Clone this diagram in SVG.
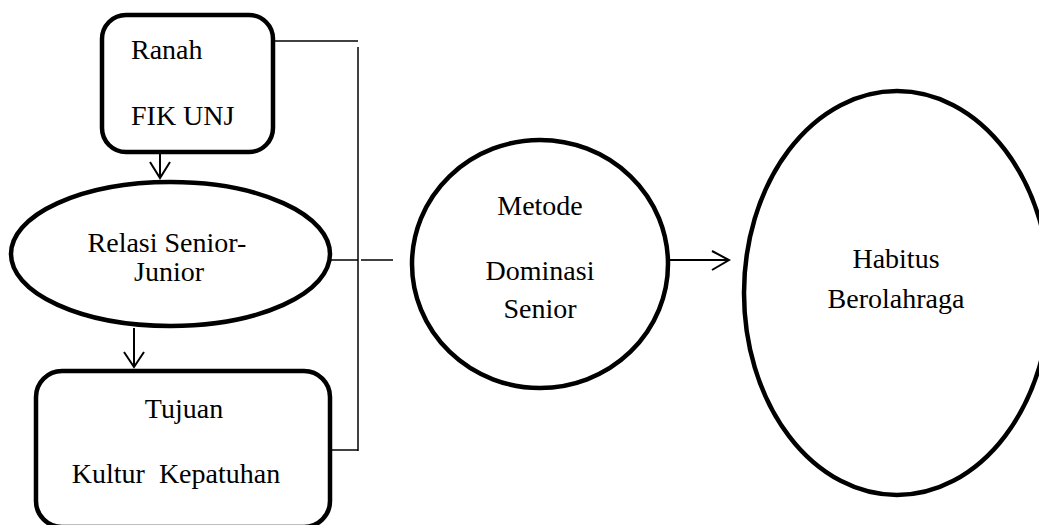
<svg xmlns="http://www.w3.org/2000/svg" width="1039" height="525" viewBox="0 0 1039 525">
<style>
.shape{fill:#fff;stroke:#000;stroke-width:4.5}
.t{font-family:"Liberation Serif","Times New Roman",serif;font-size:28px;fill:#000}
.c{text-anchor:middle}
.thin{stroke:#000;stroke-width:1.5;fill:none}
.arr{stroke:#000;stroke-width:2;fill:none}
</style>
<rect width="1039" height="525" fill="#fff"/>
<g id="connectors">
<line class="thin" x1="275" y1="41" x2="358" y2="41"/>
<line class="thin" x1="358" y1="47" x2="358" y2="451"/>
<line class="thin" x1="330" y1="260" x2="358" y2="260"/>
<line class="thin" x1="361" y1="260" x2="393" y2="260"/>
<line class="thin" x1="330" y1="450" x2="358" y2="450"/>
<line class="arr" x1="160" y1="140" x2="160" y2="178"/>
<polyline class="arr" points="150,162 160,178 170,162"/>
<line class="arr" x1="134" y1="328" x2="134" y2="367"/>
<polyline class="arr" points="124,352 134,367 144,352"/>
<line class="arr" x1="669" y1="260" x2="729" y2="260"/>
<polyline class="arr" points="712,251 729,260 712,270"/>
</g>
<g id="ranah">
<rect class="shape" x="102" y="15" width="171" height="137" rx="24"/>
<text class="t" x="131" y="59">Ranah</text>
<text class="t" x="131" y="125">FIK UNJ</text>
</g>
<g id="relasi">
<ellipse class="shape" cx="170.5" cy="254" rx="159.5" ry="72"/>
<text class="t c" x="167" y="252">Relasi Senior-</text>
<text class="t c" x="169" y="281">Junior</text>
</g>
<g id="tujuan">
<rect class="shape" x="36" y="371" width="294" height="156" rx="26"/>
<text class="t c" x="184" y="418">Tujuan</text>
<text class="t c" x="176" y="483" xml:space="preserve" style="white-space:pre">Kultur  Kepatuhan</text>
</g>
<g id="metode">
<ellipse class="shape" cx="540" cy="264" rx="128" ry="124"/>
<text class="t c" x="540" y="215">Metode</text>
<text class="t c" x="540" y="280">Dominasi</text>
<text class="t c" x="540" y="318">Senior</text>
</g>
<g id="habitus">
<ellipse class="shape" cx="897" cy="293" rx="153" ry="202"/>
<text class="t c" x="896" y="268">Habitus</text>
<text class="t c" x="896" y="308">Berolahraga</text>
</g>
</svg>
